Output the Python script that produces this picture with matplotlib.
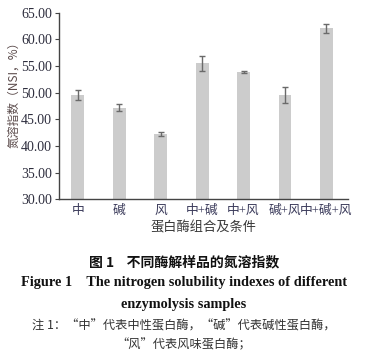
import matplotlib
import numpy as np
from matplotlib import pyplot as plt

matplotlib.use("Agg")

CATEGORIES = ["中", "碱", "风", "中+碱", "中+风", "碱+风", "中+碱+风"]
NSI = [49.6, 47.2, 42.2, 55.5, 53.9, 49.6, 62.1]
NSI_ERR = [0.9, 0.7, 0.4, 1.4, 0.1, 1.5, 0.8]
Y_TICKS = [30, 35, 40, 45, 50, 55, 60, 65]

CJK = ["Noto Sans CJK SC", "DejaVu Sans"]
SERIF = ["Liberation Serif", "Noto Sans CJK SC"]
TXT = "#2e2e3e"


def render() -> None:
    fig = plt.figure(figsize=(3.68, 3.56), dpi=100)
    ax = fig.add_axes([0.1595, 0.440, 0.785, 0.524])

    x = np.arange(len(CATEGORIES))
    ax.bar(x, NSI, width=0.31, color="#cccccc", zorder=1)
    ax.errorbar(x, NSI, yerr=NSI_ERR, fmt="none", ecolor="#6a6a6a",
                elinewidth=1.0, capsize=2.2, capthick=1.0, zorder=2)

    ax.set_xlim(-0.46, 6.51)
    ax.set_ylim(30, 65)
    ax.set_yticks(Y_TICKS)
    ax.set_yticklabels([f"{v:.2f}" for v in Y_TICKS], family=SERIF,
                       fontsize=10, color=TXT)
    ax.set_xticks(x)
    # serif first so "+" is the narrow Times-like glyph
    ax.set_xticklabels(CATEGORIES, family=SERIF, fontsize=9.2, color="#3a3a5a")
    ax.tick_params(axis="x", length=0, pad=4)
    ax.tick_params(axis="y", length=3, width=0.8, color="#444444", pad=2)

    for side in ("top", "right"):
        ax.spines[side].set_visible(False)
    for side in ("left", "bottom"):
        ax.spines[side].set_color("#444444")
        ax.spines[side].set_linewidth(1.0)

    ax.set_xlabel("蛋白酶组合及条件", family=CJK, fontsize=9.5,
                  color="#3a3a3a", labelpad=3)
    ax.set_ylabel("氮溶指数（NSI，%）", family=CJK, fontsize=8.5,
                  color="#5a4a4a")
    ax.yaxis.set_label_coords(-0.135, 0.575)

    fig.text(0.5, 0.262, "图 1    不同酶解样品的氮溶指数", family=CJK,
             fontsize=10, fontweight="bold", ha="center", va="center",
             color="#111111")
    fig.text(0.5, 0.206, "Figure 1    The nitrogen solubility indexes of different",
             family=SERIF, fontsize=10.3, fontweight="bold", ha="center",
             va="center", color="#111111")
    fig.text(0.5, 0.146, "enzymolysis samples", family=SERIF, fontsize=10.3,
             fontweight="bold", ha="center", va="center", color="#111111")
    fig.text(0.5, 0.083, "注 1：“中”代表中性蛋白酶，“碱”代表碱性蛋白酶，",
             family=CJK, fontsize=8.8, ha="center", va="center", color="#333333")
    fig.text(0.5, 0.031, "“风”代表风味蛋白酶；", family=CJK, fontsize=8.8,
             ha="center", va="center", color="#333333")

    fig.savefig("out.png", dpi=100)
    plt.close(fig)


if __name__ == "__main__":
    render()
